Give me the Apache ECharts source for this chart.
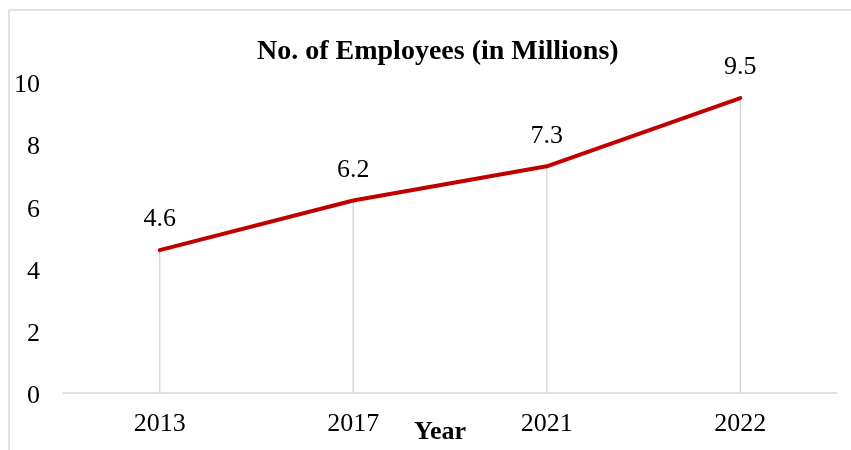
<!DOCTYPE html>
<html>
<head>
<meta charset="utf-8">
<script src="https://cdn.jsdelivr.net/npm/echarts@6/dist/echarts.min.js"></script>
<style>
  html, body { margin: 0; padding: 0; background: #fff; }
  #chart { width: 851px; height: 450px; }
</style>
</head>
<body>
<div id="chart"></div>
<script>
// Employees per year (millions)
const years = ['2013', '2017', '2021', '2022'];
const employees = [4.6, 6.2, 7.3, 9.5];
const yTicks = { min: 0, max: 10, interval: 2 };

const serif = '"Liberation Serif", "Times New Roman", serif';
const chart = echarts.init(document.getElementById('chart'), null, { renderer: 'canvas' });

chart.setOption({
  animation: false,
  backgroundColor: '#ffffff',
  title: {
    text: 'No. of Employees (in Millions)',
    left: 252,
    top: 33,
    textStyle: { fontFamily: serif, fontSize: 28, fontWeight: 'bold', color: '#000' }
  },
  graphic: [
    {
      type: 'rect',
      shape: { x: 9, y: 10, width: 900, height: 500 },
      style: { fill: 'none', stroke: '#d9d9d9', lineWidth: 1.5 },
      silent: true
    },
    {
      type: 'text',
      x: 440,
      y: 432,
      style: {
        text: 'Year',
        fontFamily: serif,
        fontSize: 26,
        fontWeight: 'bold',
        fill: '#000',
        textAlign: 'center',
        textVerticalAlign: 'middle'
      }
    }
  ],
  grid: { left: 63, right: 14, top: 82.5, bottom: 57, containLabel: false },
  xAxis: {
    type: 'category',
    data: years,
    boundaryGap: true,
    axisLine: { show: true, lineStyle: { color: '#d9d9d9', width: 1.5 } },
    axisTick: { show: false },
    splitLine: { show: false },
    axisLabel: { fontFamily: serif, fontSize: 26, color: '#000', margin: 18 }
  },
  yAxis: {
    type: 'value',
    min: yTicks.min,
    max: yTicks.max,
    interval: yTicks.interval,
    axisLine: { show: false },
    axisTick: { show: false },
    splitLine: { show: false },
    axisLabel: {
      margin: 23,
      formatter: '{v|{value}}',
      rich: {
        v: { fontFamily: serif, fontSize: 26, color: '#000', lineHeight: 26, padding: [6, 0, 0, 0] }
      }
    }
  },
  series: [
    {
      // thin drop lines from each point down to the axis
      type: 'bar',
      data: employees,
      barWidth: 1.5,
      itemStyle: { color: '#d9d9d9' },
      silent: true,
      z: 1
    },
    {
      type: 'line',
      data: employees,
      showSymbol: true,
      symbol: 'circle',
      symbolSize: 1,
      itemStyle: { color: 'rgba(0,0,0,0)' },
      lineStyle: { color: '#c00000', width: 4, cap: 'round', join: 'round' },
      label: {
        show: true,
        position: 'top',
        distance: 17,
        fontFamily: serif,
        fontSize: 26,
        color: '#000'
      },
      z: 3
    }
  ]
});
</script>
</body>
</html>
